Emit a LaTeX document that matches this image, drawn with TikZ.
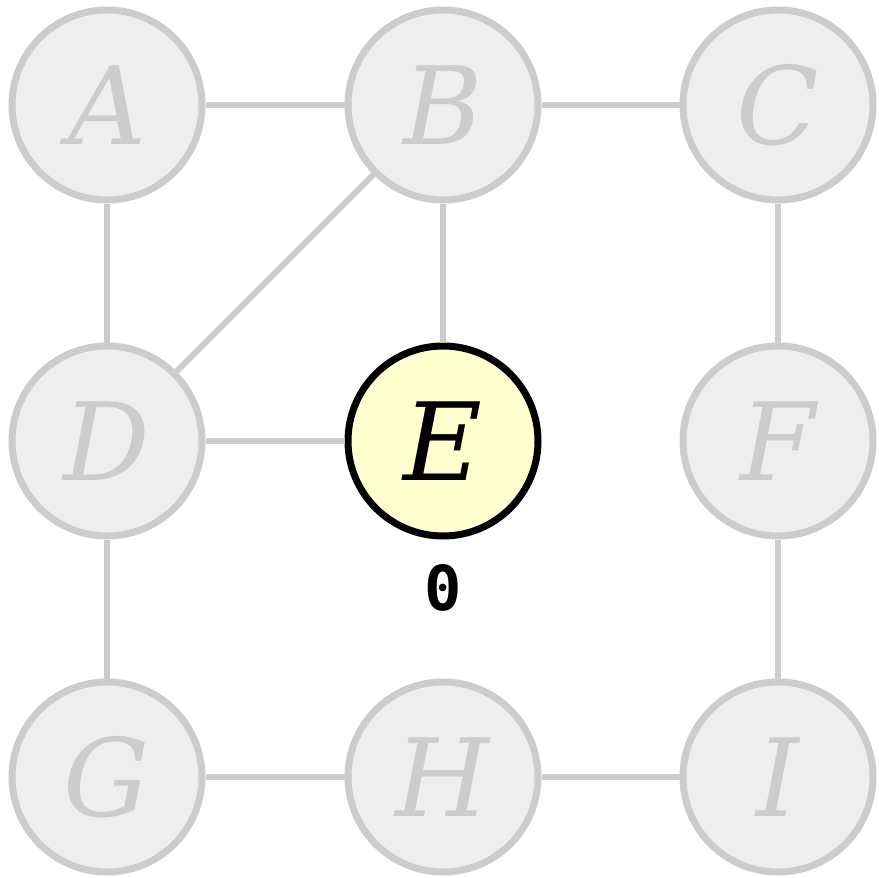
\documentclass[tikz,border=0pt]{standalone}
\usepackage{fontspec}
\newfontfamily\labfont{DejaVu Serif}
\newfontfamily\monofont{DejaVu Sans Mono}
\definecolor{edgegray}{HTML}{CCCCCC}
\definecolor{fillgray}{HTML}{EEEEEE}
\definecolor{hiyellow}{HTML}{FFFFD0}
\begin{document}
\begin{tikzpicture}[x=1pt,y=-1pt,
  vtx/.style={circle,draw=edgegray,fill=fillgray,line width=7pt,minimum size=190pt,inner sep=0pt,
    font=\labfont\itshape\fontsize{108}{108}\selectfont,text=edgegray},
  hivtx/.style={vtx,draw=black,fill=hiyellow,text=black},
  edge/.style={draw=edgegray,line width=6pt},
  dist/.style={font=\monofont\bfseries\fontsize{62}{62}\selectfont}]
\useasboundingbox (0,0) rectangle (879,878);
\node[vtx] (A) at (107,105) {A};
\node[vtx] (B) at (443,105) {B};
\node[vtx] (C) at (778,105) {C};
\node[vtx] (D) at (107,441) {D};
\node[hivtx] (E) at (443,441) {E};
\node[vtx] (F) at (778,441) {F};
\node[vtx] (G) at (107,777) {G};
\node[vtx] (H) at (443,777) {H};
\node[vtx] (I) at (778,777) {I};
\node[dist] (d) at (443,588) {0};
\draw[edge] (A) -- (B);
\draw[edge] (B) -- (C);
\draw[edge] (A) -- (D);
\draw[edge] (B) -- (D);
\draw[edge] (B) -- (E);
\draw[edge] (C) -- (F);
\draw[edge] (D) -- (E);
\draw[edge] (D) -- (G);
\draw[edge] (F) -- (I);
\draw[edge] (G) -- (H);
\draw[edge] (H) -- (I);
\end{tikzpicture}
\end{document}
